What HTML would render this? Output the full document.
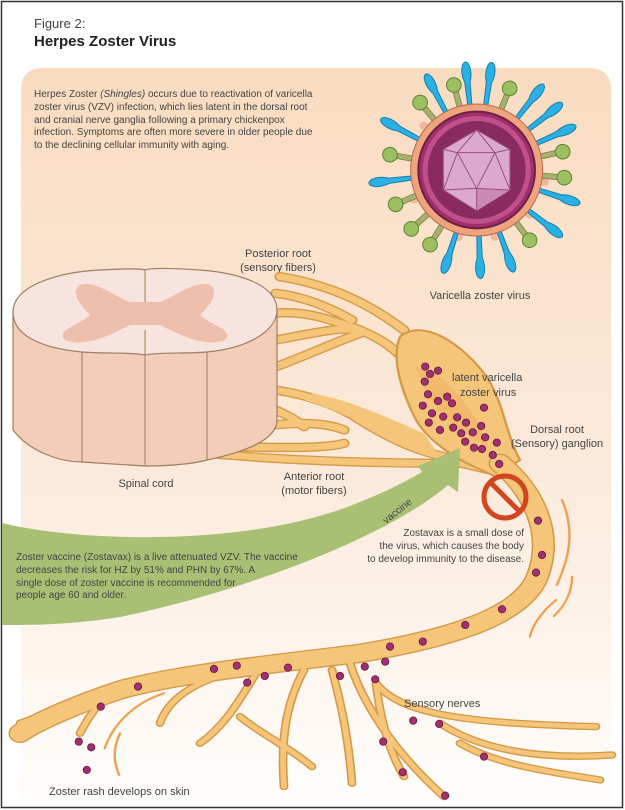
<!DOCTYPE html>
<html><head><meta charset="utf-8"><style>
html,body{margin:0;padding:0;background:#fff}
svg{display:block}
text{font-family:"Liberation Sans",sans-serif;fill:#444}
</style></head><body>
<svg width="625" height="810" viewBox="0 0 625 810" xmlns="http://www.w3.org/2000/svg">
<defs>
<linearGradient id="pg" x1="0" y1="0" x2="0" y2="1">
<stop offset="0" stop-color="#f9dcc0"/><stop offset="0.55" stop-color="#fbeadb"/><stop offset="1" stop-color="#fffdfb"/>
</linearGradient>
<marker id="ah" markerWidth="8" markerHeight="8" refX="4" refY="4" orient="auto" markerUnits="userSpaceOnUse">
<path d="M0,0 L8,4 L0,8 L3,4Z" fill="#f0a050"/></marker>
<g id="blue"><path d="M284,52 L282,-25 C271,-55 278,-84 290,-86 C302,-84 309,-55 298,-25 L296,52Z" fill="#2ab0e2" stroke="#1a7fb0" stroke-width="3"/></g>
<g id="grn"><rect x="282" y="-10" width="16" height="60" fill="#a8b070" stroke="#6a7a3a" stroke-width="2"/><circle cx="290" cy="-24" r="22" fill="#9cbf62" stroke="#5f8334" stroke-width="3"/></g>
<g id="stub"><rect x="278" y="0" width="24" height="50" rx="12" fill="#f2b79a"/></g>
</defs>
<rect x="1.5" y="1.5" width="621" height="806" fill="#fff" stroke="#333" stroke-width="1.5"/>
<text x="34" y="28" font-size="13">Figure 2:</text>
<text x="34" y="46" font-size="15" font-weight="bold" style="fill:#222">Herpes Zoster Virus</text>
<path d="M21,90 Q21,68 43,68 L589,68 Q611,68 611,90 L611,800 L21,800Z" fill="url(#pg)"/>
<g font-size="10">
<text x="34" y="97">Herpes Zoster <tspan font-style="italic">(Shingles)</tspan> occurs due to reactivation of varicella</text>
<text x="34" y="110">zoster virus (VZV) infection, which lies latent in the dorsal root</text>
<text x="34" y="123">and cranial nerve ganglia following a primary chickenpox</text>
<text x="34" y="135">infection. Symptoms are often more severe in older people due</text>
<text x="34" y="148">to the declining cellular immunity with aging.</text>
</g>
<g transform="translate(380,90) scale(0.3333)">
<use href="#stub" transform="rotate(-50 290 240) translate(0,20)"/>
<use href="#stub" transform="rotate(-115 290 240) translate(0,20)"/>
<use href="#stub" transform="rotate(100 290 240) translate(0,20)"/>
<use href="#stub" transform="rotate(165 290 240) translate(0,20)"/>
<use href="#stub" transform="rotate(-165 290 240) translate(0,20)"/>
<use href="#stub" transform="rotate(130 290 240) translate(0,20)"/>
<use href="#blue" transform="rotate(-28 290 240)"/>
<use href="#blue" transform="rotate(-6 290 240)"/>
<use href="#blue" transform="rotate(8 290 240)"/>
<use href="#blue" transform="rotate(38 290 240)"/>
<use href="#blue" transform="rotate(52 290 240)"/>
<use href="#blue" transform="rotate(66 290 240)"/>
<use href="#blue" transform="rotate(108 290 240)"/>
<use href="#blue" transform="rotate(128 290 240)"/>
<use href="#blue" transform="rotate(160 290 240)"/>
<use href="#blue" transform="rotate(178 290 240)"/>
<use href="#blue" transform="rotate(198 290 240)"/>
<use href="#blue" transform="rotate(263 290 240)"/>
<use href="#blue" transform="rotate(298 290 240)"/>
<use href="#grn" transform="rotate(-15 290 240)"/>
<use href="#grn" transform="rotate(22 290 240)"/>
<use href="#grn" transform="rotate(78 290 240)"/>
<use href="#grn" transform="rotate(95 290 240)"/>
<use href="#grn" transform="rotate(143 290 240)"/>
<use href="#grn" transform="rotate(212 290 240)"/>
<use href="#grn" transform="rotate(228 290 240)"/>
<use href="#grn" transform="rotate(247 290 240)"/>
<use href="#grn" transform="rotate(280 290 240)"/>
<use href="#grn" transform="rotate(-40 290 240)"/>
<circle cx="290" cy="240" r="198" fill="#eea47c" stroke="#b86a50" stroke-width="3"/>
<circle cx="290" cy="240" r="175" fill="#a0306a" stroke="#6e1e48" stroke-width="6"/>
<circle cx="290" cy="240" r="162" fill="#c0508a"/>
<circle cx="290" cy="240" r="147" fill="#8a2a62"/>
<path d="M290,120 L390,178 L390,300 L290,362 L190,300 L190,178Z" fill="#dba9cf" stroke="#9a4e84" stroke-width="3"/>
<path d="M290,295 L390,300 L290,362Z" fill="#c98ab8"/>
<path d="M290,362 L290,295 L190,300 M290,295 L390,300 M290,295 L232,188 L345,188 Z M290,120 L232,188 L190,178 M290,120 L345,188 L390,178 M232,188 L190,300 M345,188 L390,300" fill="none" stroke="#9a4e84" stroke-width="3"/>
</g>
<text x="480" y="299" font-size="11" text-anchor="middle">Varicella zoster virus</text>
<text x="278" y="257" font-size="11" text-anchor="middle">Posterior root</text>
<text x="278" y="271" font-size="11" text-anchor="middle">(sensory fibers)</text>
<g transform="translate(0,300) scale(0.4,0.3333)" fill="none" stroke-linecap="round">
<g stroke="#d49a48" stroke-width="28">
<path d="M690,40 C760,30 830,60 900,90 C960,120 990,150 1030,200"/>
<path d="M690,120 C780,100 850,80 900,90"/>
<path d="M690,200 C760,170 830,130 900,100"/>
<path d="M690,-20 C760,-10 820,20 880,60"/>
<path d="M700,-70 C800,-50 900,-10 1010,90"/>
<path d="M520,265 C650,250 800,280 900,360 C980,420 1050,460 1150,480"/>
<path d="M520,300 C620,300 700,320 760,380"/>
<path d="M520,400 C650,380 780,350 860,390"/>
<path d="M520,460 C700,480 900,490 1150,490"/>
<path d="M520,440 C650,440 800,450 860,430"/>
<path d="M1100,475 L1260,520"/>
</g>
<g stroke="#f5c57a" stroke-width="20">
<path d="M690,40 C760,30 830,60 900,90 C960,120 990,150 1030,200"/>
<path d="M690,120 C780,100 850,80 900,90"/>
<path d="M690,200 C760,170 830,130 900,100"/>
<path d="M690,-20 C760,-10 820,20 880,60"/>
<path d="M700,-70 C800,-50 900,-10 1010,90"/>
<path d="M520,265 C650,250 800,280 900,360 C980,420 1050,460 1150,480"/>
<path d="M520,300 C620,300 700,320 760,380"/>
<path d="M520,400 C650,380 780,350 860,390"/>
<path d="M520,460 C700,480 900,490 1150,490"/>
<path d="M520,440 C650,440 800,450 860,430"/>
<path d="M1100,475 L1260,520"/>
</g>
<path d="M760,300 C850,330 950,400 1100,470 L1060,400 C980,360 880,300 780,280Z" fill="#f5c57a"/>
<path d="M1000,110 C1060,50 1160,140 1210,220 C1260,300 1260,390 1300,480 L1240,530 C1160,490 1080,440 1040,360 C1010,290 975,180 1000,110Z" fill="#f5c57a" stroke="#d49a48" stroke-width="6"/>
<path d="M1040,200 C1060,300 1120,380 1220,440 C1200,360 1150,280 1090,220Z" fill="#eeb060" opacity="0.6"/>
<g stroke="#d49a48" stroke-width="58">
<path d="M1250,490 C1330,570 1390,700 1340,840 C1290,960 1100,1020 900,1060 C700,1090 450,1120 300,1170 C200,1210 100,1260 50,1300"/>
</g>
<g stroke="#d49a48" stroke-width="22">
<path d="M870,1070 C900,1200 980,1350 1110,1490"/>
<path d="M940,1150 C1000,1240 1150,1270 1490,1280"/>
<path d="M1100,1270 C1200,1350 1350,1380 1530,1365"/>
<path d="M1150,1330 C1250,1400 1400,1420 1500,1440"/>
<path d="M940,1150 C950,1250 970,1350 1010,1430"/>
<path d="M830,1110 C850,1200 870,1300 880,1450"/>
<path d="M760,1110 C720,1200 700,1300 710,1460"/>
<path d="M640,1120 C600,1200 560,1280 500,1330"/>
<path d="M600,1250 C650,1300 720,1340 780,1400"/>
<path d="M570,1120 C480,1150 420,1200 400,1270"/>
<path d="M250,1210 C220,1250 210,1280 200,1300"/>
<path d="M300,1180 C200,1210 120,1240 50,1270"/>
</g>
<g stroke="#f5c57a" stroke-width="14">
<path d="M870,1070 C900,1200 980,1350 1110,1490"/>
<path d="M940,1150 C1000,1240 1150,1270 1490,1280"/>
<path d="M1100,1270 C1200,1350 1350,1380 1530,1365"/>
<path d="M1150,1330 C1250,1400 1400,1420 1500,1440"/>
<path d="M940,1150 C950,1250 970,1350 1010,1430"/>
<path d="M830,1110 C850,1200 870,1300 880,1450"/>
<path d="M760,1110 C720,1200 700,1300 710,1460"/>
<path d="M640,1120 C600,1200 560,1280 500,1330"/>
<path d="M600,1250 C650,1300 720,1340 780,1400"/>
<path d="M570,1120 C480,1150 420,1200 400,1270"/>
<path d="M250,1210 C220,1250 210,1280 200,1300"/>
<path d="M300,1180 C200,1210 120,1240 50,1270"/>
</g>
<g stroke="#f5c57a" stroke-width="50">
<path d="M1250,490 C1330,570 1390,700 1340,840 C1290,960 1100,1020 900,1060 C700,1090 450,1120 300,1170 C200,1210 100,1260 50,1300"/>
</g>
<g stroke="#f0a050" stroke-width="6" marker-end="url(#ah)">
<path d="M1405,600 C1440,700 1420,780 1392,855"/>
<path d="M1430,830 C1430,880 1410,920 1385,948"/>
<path d="M1390,900 C1350,940 1330,980 1325,1010"/>
<path d="M410,1180 C330,1210 280,1280 262,1345"/>
<path d="M300,1300 C280,1350 285,1390 298,1425"/>
</g>
<g fill="#a3306e" stroke="#6e1e48" stroke-width="2.5">
<ellipse cx="1063" cy="200" rx="9" ry="11"/><ellipse cx="1075" cy="222" rx="9" ry="11"/><ellipse cx="1095" cy="212" rx="9" ry="11"/><ellipse cx="1062" cy="245" rx="9" ry="11"/><ellipse cx="1070" cy="283" rx="9" ry="11"/><ellipse cx="1095" cy="303" rx="9" ry="11"/><ellipse cx="1118" cy="290" rx="9" ry="11"/><ellipse cx="1130" cy="310" rx="9" ry="11"/><ellipse cx="1057" cy="317" rx="9" ry="11"/><ellipse cx="1210" cy="323" rx="9" ry="11"/><ellipse cx="1080" cy="340" rx="9" ry="11"/><ellipse cx="1108" cy="350" rx="9" ry="11"/><ellipse cx="1143" cy="352" rx="9" ry="11"/><ellipse cx="1165" cy="368" rx="9" ry="11"/><ellipse cx="1072" cy="368" rx="9" ry="11"/><ellipse cx="1100" cy="390" rx="9" ry="11"/><ellipse cx="1133" cy="383" rx="9" ry="11"/><ellipse cx="1153" cy="400" rx="9" ry="11"/><ellipse cx="1182" cy="397" rx="9" ry="11"/><ellipse cx="1203" cy="378" rx="9" ry="11"/><ellipse cx="1213" cy="412" rx="9" ry="11"/><ellipse cx="1242" cy="428" rx="9" ry="11"/><ellipse cx="1163" cy="425" rx="9" ry="11"/><ellipse cx="1185" cy="443" rx="9" ry="11"/><ellipse cx="1205" cy="447" rx="9" ry="11"/><ellipse cx="1232" cy="465" rx="9" ry="11"/><ellipse cx="1248" cy="492" rx="9" ry="11"/>
<ellipse cx="1345" cy="662" rx="9" ry="11"/><ellipse cx="1355" cy="765" rx="9" ry="11"/><ellipse cx="1340" cy="818" rx="9" ry="11"/><ellipse cx="1255" cy="928" rx="9" ry="11"/><ellipse cx="1163" cy="975" rx="9" ry="11"/><ellipse cx="1057" cy="1025" rx="9" ry="11"/><ellipse cx="975" cy="1040" rx="9" ry="11"/><ellipse cx="963" cy="1085" rx="9" ry="11"/><ellipse cx="912" cy="1100" rx="9" ry="11"/><ellipse cx="938" cy="1138" rx="9" ry="11"/><ellipse cx="850" cy="1128" rx="9" ry="11"/><ellipse cx="720" cy="1103" rx="9" ry="11"/><ellipse cx="662" cy="1128" rx="9" ry="11"/><ellipse cx="618" cy="1148" rx="9" ry="11"/><ellipse cx="592" cy="1097" rx="9" ry="11"/><ellipse cx="535" cy="1107" rx="9" ry="11"/><ellipse cx="345" cy="1160" rx="9" ry="11"/><ellipse cx="252" cy="1220" rx="9" ry="11"/><ellipse cx="1033" cy="1262" rx="9" ry="11"/><ellipse cx="1098" cy="1272" rx="9" ry="11"/><ellipse cx="958" cy="1325" rx="9" ry="11"/><ellipse cx="1210" cy="1370" rx="9" ry="11"/><ellipse cx="1007" cy="1417" rx="9" ry="11"/><ellipse cx="1113" cy="1487" rx="9" ry="11"/><ellipse cx="197" cy="1325" rx="9" ry="11"/><ellipse cx="228" cy="1342" rx="9" ry="11"/><ellipse cx="217" cy="1410" rx="9" ry="11"/>
</g>
</g>
<path d="M13,312 L13,430 C30,452 60,462 82,462 L145,466 C180,466 200,462 207,460 C245,452 277,440 277,420 L277,310 Z" fill="#f2cdb8" stroke="#9c8060" stroke-width="1.2"/>
<path d="M13,312 C13,285 60,272 100,270 C120,269 140,268 145,270 C150,268 170,268 200,270 C240,273 277,285 277,310 C277,330 250,348 207,352 C180,354 160,352 145,355 C130,352 110,354 82,352 C40,348 13,335 13,312 Z" fill="#f8e4de" stroke="#9c8060" stroke-width="1.2"/>
<path d="M80,285 C95,280 112,295 130,302 L160,302 C178,295 195,280 210,285 C220,292 210,305 200,315 C210,325 235,330 225,340 C205,348 180,335 160,325 L130,325 C110,335 85,348 65,340 C55,330 80,325 90,315 C80,305 70,292 80,285Z" fill="#efbfae"/>
<path d="M145,270 L145,302 M145,330 L145,355 M82,352 L82,462 M145,355 L145,466 M207,352 L207,460" stroke="#9c8060" stroke-width="1" fill="none"/>
<text x="146" y="487" font-size="11" text-anchor="middle">Spinal cord</text>
<text x="314" y="480" font-size="11" text-anchor="middle">Anterior root</text>
<text x="314" y="494" font-size="11" text-anchor="middle">(motor fibers)</text>
<text x="452" y="381" font-size="11">latent varicella</text>
<text x="460" y="396" font-size="11">zoster virus</text>
<text x="557" y="433" font-size="11" text-anchor="middle">Dorsal root</text>
<text x="557" y="447" font-size="11" text-anchor="middle">(Sensory) ganglion</text>
<path d="M2,523 C80,542 250,548 360,502 C385,492 405,482 422,472 L418,466 L460,448 L458,492 L448,485 C390,535 250,590 120,617 C70,625 30,625 2,625 Z" fill="#a9bf74"/>
<text x="0" y="0" font-size="10" fill="#333" transform="translate(386,524) rotate(-38)">vaccine</text>
<circle cx="505" cy="497" r="21" fill="none" stroke="#d2451f" stroke-width="5"/>
<path d="M490,482 L520,512" stroke="#d2451f" stroke-width="5"/>
<g font-size="10" text-anchor="end">
<text x="524" y="536">Zostavax is a small dose of</text>
<text x="524" y="549">the virus, which causes the body</text>
<text x="524" y="562">to develop immunity to the disease.</text>
</g>
<g font-size="10">
<text x="16" y="560">Zoster vaccine (Zostavax) is a live attenuated VZV. The vaccine</text>
<text x="16" y="573">decreases the risk for HZ by 51% and PHN by 67%. A</text>
<text x="16" y="586">single dose of zoster vaccine is recommended for</text>
<text x="16" y="598">people age 60 and older.</text>
</g>
<text x="404" y="707" font-size="11">Sensory nerves</text>
<text x="49" y="795" font-size="11">Zoster rash develops on skin</text>
</svg>
</body></html>
